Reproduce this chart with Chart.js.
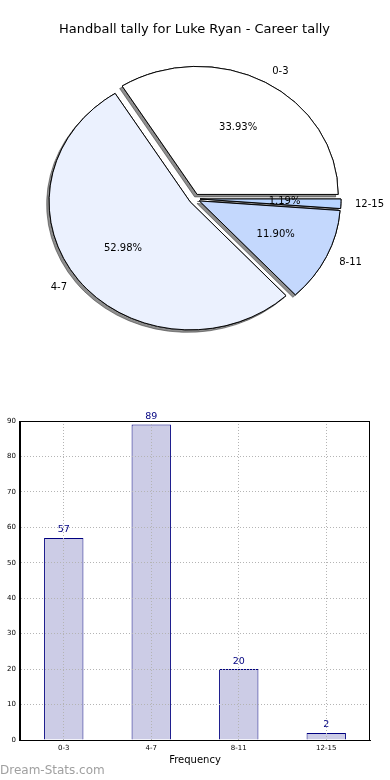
<!DOCTYPE html>
<html>
<head>
<meta charset="utf-8">
<title>Handball tally for Luke Ryan</title>
<script src="https://cdn.jsdelivr.net/npm/chart.js@4.4.1/dist/chart.umd.min.js"></script>
<style>
    html, body { margin: 0; padding: 0; background: #fff; }
    body { width: 390px; height: 780px; position: relative; overflow: hidden; font-family: 'DejaVu Sans', sans-serif; }
    #pieBox { position: absolute; left: 0; top: 0; width: 390px; height: 360px; }
    #barBox { position: absolute; left: 0; top: 400px; width: 390px; height: 380px; }
    #credit { position: absolute; left: 0; top: 763px; font-size: 12px; line-height: 14px; color: #a0a0a0; }
</style>
</head>
<body>
<div id="pieBox"><canvas id="pieChart"></canvas></div>
<div id="barBox"><canvas id="barChart"></canvas></div>
<div id="credit">Dream-Stats.com</div>
<script>
const categories = ['0-3', '4-7', '8-11', '12-15'];
const tallies = [57, 89, 20, 2];
const sliceColors = ['#ffffff', '#ebf1fe', '#c4d8fd', '#b8d4ff'];
const yTicks = [0, 10, 20, 30, 40, 50, 60, 70, 80, 90];

const FONT = 'DejaVu Sans';
const total = tallies.reduce((a, b) => a + b, 0);

// pie look (matplotlib style: exploded, squashed, shadowed)
const EXPLODE = 5.5;
const RADIUS = 141;
const SQUASH = 0.908;

// matplotlib goes counter-clockwise from 3 o'clock, chart.js clockwise -> feed reversed
const pieOrder = categories.map((c, i) => i).reverse();

const pieDraw = {
    id: 'pieDraw',
    beforeDatasetsDraw(chart) {
        const ctx = chart.ctx;
        const arcs = chart.getDatasetMeta(0).data;
        const drawAll = (withShadow) => {
            arcs.forEach(arc => {
                const mid = (arc.startAngle + arc.endAngle) / 2;
                ctx.save();
                if (withShadow) {
                    ctx.shadowColor = 'rgba(50, 50, 50, 0.55)';
                    ctx.shadowOffsetX = -2.5;
                    ctx.shadowOffsetY = 2.5;
                    ctx.shadowBlur = 0;
                }
                ctx.translate(arc.x, arc.y);
                ctx.scale(1, SQUASH);
                ctx.translate(-arc.x, -arc.y);
                ctx.translate(Math.cos(mid) * EXPLODE, Math.sin(mid) * EXPLODE);
                arc.draw(ctx);
                ctx.restore();
            });
        };
        // shadows first, then the wedges over them
        drawAll(true);
        drawAll(false);
        return false;
    },
    afterDraw(chart) {
        const ctx = chart.ctx;
        const arcs = chart.getDatasetMeta(0).data;
        ctx.save();
        ctx.fillStyle = '#000';
        ctx.font = `10px '${FONT}'`;
        ctx.textBaseline = 'middle';
        arcs.forEach((arc, j) => {
            const i = pieOrder[j];
            const mid = (arc.startAngle + arc.endAngle) / 2;
            const c = Math.cos(mid), s = Math.sin(mid);
            const r = arc.outerRadius;
            // category label outside
            const lr = EXPLODE + 1.1 * r;
            ctx.textAlign = c >= 0 ? 'left' : 'right';
            ctx.fillText(categories[i], arc.x + c * lr, arc.y + s * lr * SQUASH);
            // percentage inside
            const pr = EXPLODE + 0.6 * r;
            ctx.textAlign = 'center';
            const pct = (tallies[i] / total * 100).toFixed(2) + '%';
            ctx.fillText(pct, arc.x + c * pr, arc.y + s * pr * SQUASH);
        });
        ctx.restore();
    }
};

new Chart(document.getElementById('pieChart'), {
    type: 'pie',
    data: {
        labels: pieOrder.map(i => categories[i]),
        datasets: [{
            data: pieOrder.map(i => tallies[i]),
            backgroundColor: pieOrder.map(i => sliceColors[i]),
            borderColor: '#000000',
            borderWidth: 1
        }]
    },
    options: {
        responsive: true,
        maintainAspectRatio: false,
        animation: false,
        events: [],
        rotation: 90,
        radius: RADIUS,
        layout: { padding: { left: 0, right: 1, top: 0, bottom: 0 } },
        plugins: {
            legend: { display: false },
            tooltip: { enabled: false },
            title: {
                display: true,
                text: 'Handball tally for Luke Ryan - Career tally',
                color: '#000',
                font: { family: FONT, size: 13, weight: 'normal', lineHeight: 1.2 },
                padding: { top: 22, bottom: 0 }
            }
        }
    },
    plugins: [pieDraw]
});

const valueLabels = {
    id: 'valueLabels',
    afterDatasetsDraw(chart) {
        const ctx = chart.ctx;
        ctx.save();
        ctx.fillStyle = '#000080';
        ctx.font = `9.5px '${FONT}'`;
        ctx.textAlign = 'center';
        ctx.textBaseline = 'alphabetic';
        chart.getDatasetMeta(0).data.forEach((bar, i) => {
            ctx.fillText(String(tallies[i]), bar.x, bar.y - 5.5);
        });
        ctx.restore();
    }
};

const frame = {
    id: 'frame',
    afterDraw(chart) {
        const { left, top, right, bottom } = chart.chartArea;
        const ctx = chart.ctx;
        ctx.save();
        ctx.strokeStyle = '#000';
        ctx.lineWidth = 1;
        ctx.strokeRect(Math.round(left) - 0.5, Math.round(top) + 0.5, Math.round(right - left), Math.round(bottom - top));
        ctx.restore();
    }
};

const gridOpts = { z: 1, color: '#b4b4b4', lineWidth: 1, drawTicks: false };

new Chart(document.getElementById('barChart'), {
    type: 'bar',
    data: {
        labels: categories,
        datasets: [{
            data: tallies,
            backgroundColor: '#cccce6',
            borderColor: '#000080',
            borderWidth: 1,
            categoryPercentage: 1,
            barPercentage: 0.45
        }]
    },
    options: {
        responsive: true,
        maintainAspectRatio: false,
        animation: false,
        events: [],
        layout: { padding: { left: 0, right: 20, top: 21, bottom: 12 } },
        plugins: {
            legend: { display: false },
            tooltip: { enabled: false }
        },
        scales: {
            x: {
                grid: Object.assign({ offset: false }, gridOpts),
                border: { color: '#000', dash: [1, 2], z: 2 },
                ticks: { color: '#000', font: { family: FONT, size: 7 }, padding: 4, maxRotation: 0 },
                title: {
                    display: true,
                    text: 'Frequency',
                    color: '#000',
                    font: { family: FONT, size: 10 },
                    padding: { top: 0, bottom: 2 }
                },
                afterFit: s => { s.height = 28; }
            },
            y: {
                min: 0,
                max: 90,
                grid: Object.assign({}, gridOpts),
                border: { color: '#000', dash: [1, 2], z: 2 },
                ticks: { color: '#000', font: { family: FONT, size: 7 }, padding: 4 },
                afterBuildTicks: s => { s.ticks = yTicks.map(v => ({ value: v })); },
                afterFit: s => { s.width = 20; }
            }
        }
    },
    plugins: [valueLabels, frame]
});
</script>
</body>
</html>
